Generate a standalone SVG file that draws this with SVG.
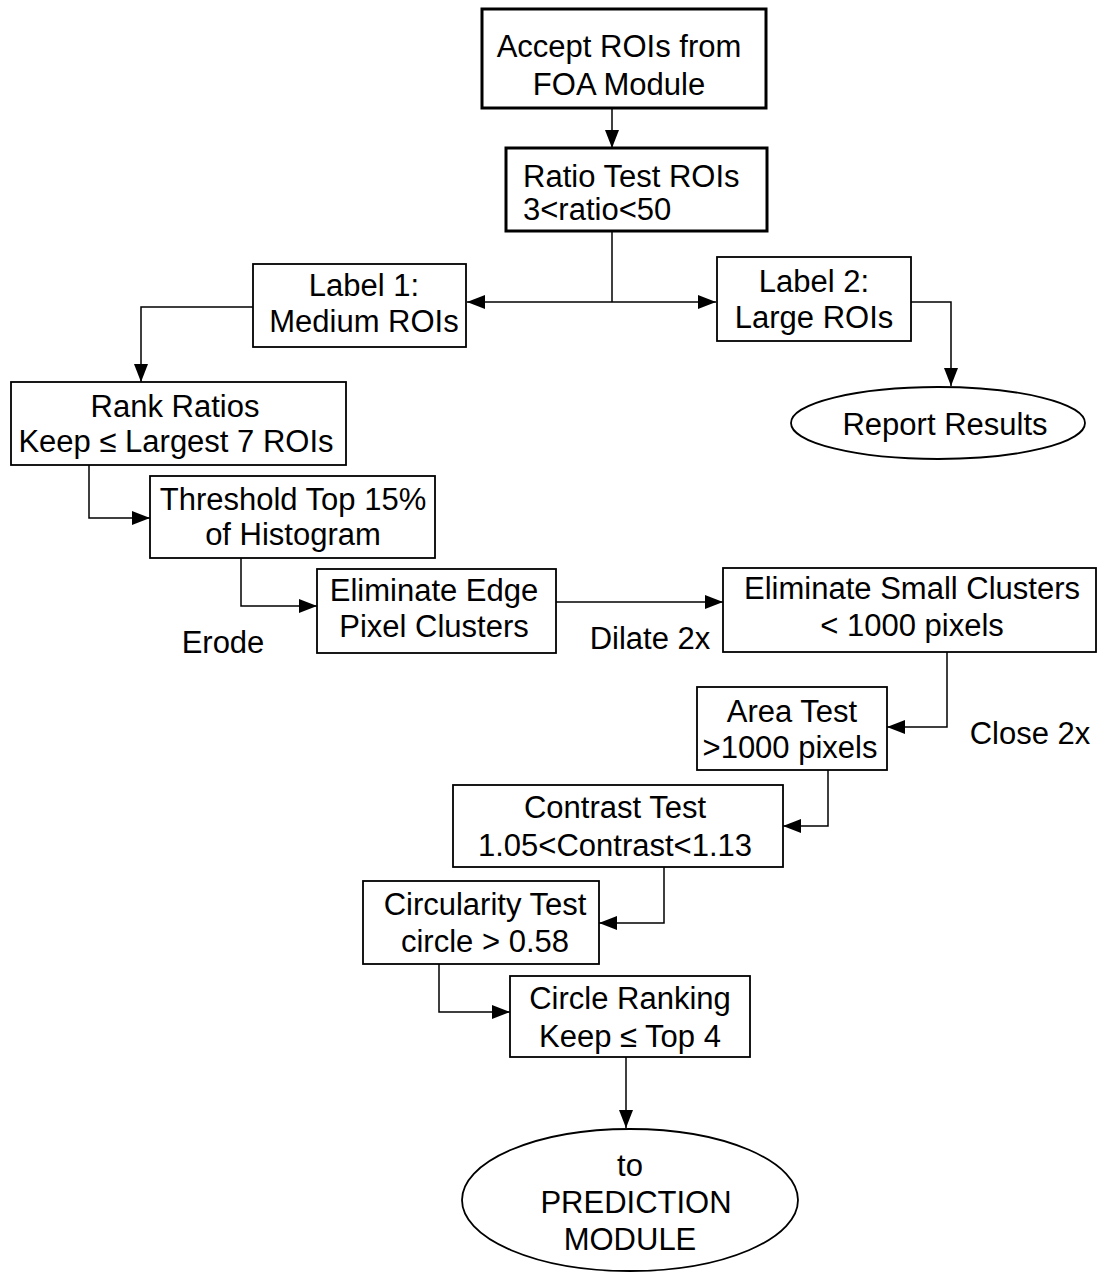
<svg xmlns="http://www.w3.org/2000/svg" width="1097" height="1273" viewBox="0 0 1097 1273">
<style>
text{font-family:"Liberation Sans",Arial,sans-serif;font-size:31px;fill:#000;text-anchor:middle}
.box{fill:#fff;stroke:#000;stroke-width:1.8}
.thick{stroke-width:3}
.c{fill:none;stroke:#000;stroke-width:1.5}
.l{text-anchor:start}
</style>
<defs>
<marker id="ah" markerUnits="userSpaceOnUse" markerWidth="19" markerHeight="15" refX="18" refY="7" orient="auto">
<path d="M0,0 L18,7 L0,14 z" fill="#000"/>
</marker>
</defs>
<rect width="1097" height="1273" fill="#fff"/>
<g id="connectors">
<path class="c" d="M612,108 V148" marker-end="url(#ah)"/>
<path class="c" d="M612,231 V302"/>
<path class="c" d="M612,302 H467" marker-end="url(#ah)"/>
<path class="c" d="M612,302 H716" marker-end="url(#ah)"/>
<path class="c" d="M253,307 H141 V382" marker-end="url(#ah)"/>
<path class="c" d="M911,302 H951 V386" marker-end="url(#ah)"/>
<path class="c" d="M89,465 V518 H150" marker-end="url(#ah)"/>
<path class="c" d="M241,558 V606 H317" marker-end="url(#ah)"/>
<path class="c" d="M556,602 H723" marker-end="url(#ah)"/>
<path class="c" d="M947,652 V727 H887" marker-end="url(#ah)"/>
<path class="c" d="M828,770 V826 H783" marker-end="url(#ah)"/>
<path class="c" d="M664,867 V923 H599" marker-end="url(#ah)"/>
<path class="c" d="M439,964 V1012 H510" marker-end="url(#ah)"/>
<path class="c" d="M626,1057 V1128" marker-end="url(#ah)"/>
</g>
<g id="accept">
<rect class="box thick" x="482" y="9" width="284" height="99"/>
<text x="619" y="57">Accept ROIs from</text>
<text x="619" y="95">FOA Module</text>
</g>
<g id="ratio">
<rect class="box thick" x="506" y="148" width="261" height="83"/>
<text class="l" x="523" y="187">Ratio Test ROIs</text>
<text class="l" x="523" y="220">3&lt;ratio&lt;50</text>
</g>
<g id="label1">
<rect class="box" x="253" y="264" width="213" height="83"/>
<text x="364" y="296">Label 1:</text>
<text x="364" y="332">Medium ROIs</text>
</g>
<g id="label2">
<rect class="box" x="717" y="257" width="194" height="84"/>
<text x="814" y="292">Label 2:</text>
<text x="814" y="328">Large ROIs</text>
</g>
<g id="report">
<ellipse class="box" cx="938" cy="423" rx="147" ry="36"/>
<text x="945" y="435">Report Results</text>
</g>
<g id="rank">
<rect class="box" x="11" y="382" width="335" height="83"/>
<text x="175" y="417">Rank Ratios</text>
<text x="176" y="452">Keep ≤ Largest 7 ROIs</text>
</g>
<g id="threshold">
<rect class="box" x="150" y="476" width="285" height="82"/>
<text x="293" y="510">Threshold Top 15%</text>
<text x="293" y="545">of Histogram</text>
</g>
<g id="edge">
<rect class="box" x="317" y="569" width="239" height="84"/>
<text x="434" y="601">Eliminate Edge</text>
<text x="434" y="637">Pixel Clusters</text>
</g>
<text id="erode" x="223" y="653">Erode</text>
<text id="dilate" x="650" y="649">Dilate 2x</text>
<g id="small">
<rect class="box" x="723" y="568" width="373" height="84"/>
<text x="912" y="599">Eliminate Small Clusters</text>
<text x="912" y="636">&lt; 1000 pixels</text>
</g>
<text id="close" x="1030" y="744">Close 2x</text>
<g id="area">
<rect class="box" x="697" y="687" width="190" height="83"/>
<text x="792" y="722">Area Test</text>
<text x="790" y="758">&gt;1000 pixels</text>
</g>
<g id="contrast">
<rect class="box" x="453" y="785" width="330" height="82"/>
<text x="615" y="818">Contrast Test</text>
<text x="615" y="856">1.05&lt;Contrast&lt;1.13</text>
</g>
<g id="circularity">
<rect class="box" x="363" y="881" width="236" height="83"/>
<text x="485" y="915">Circularity Test</text>
<text x="485" y="952">circle &gt; 0.58</text>
</g>
<g id="ranking">
<rect class="box" x="510" y="976" width="240" height="81"/>
<text x="630" y="1009">Circle Ranking</text>
<text x="630" y="1047">Keep ≤ Top 4</text>
</g>
<g id="prediction">
<ellipse class="box" cx="630" cy="1200" rx="168" ry="71"/>
<text x="630" y="1176">to</text>
<text x="636" y="1213">PREDICTION</text>
<text x="630" y="1250">MODULE</text>
</g>
</svg>
